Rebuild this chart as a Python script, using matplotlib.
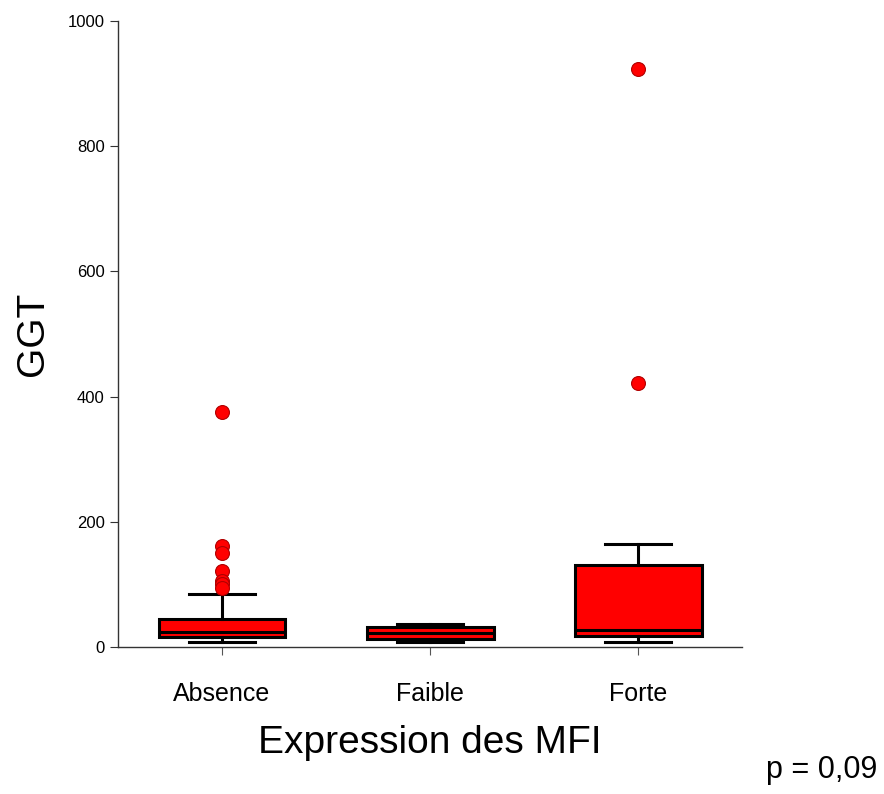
import matplotlib
matplotlib.use("Agg")
import matplotlib.pyplot as plt

plt.rcParams['font.family'] = ['Liberation Sans', 'DejaVu Sans']

categories = ['Absence', 'Faible', 'Forte']
q1 = [16, 13, 18]
med = [24, 22, 27]
q3 = [45, 32, 131]
whislo = [8, 8, 8]
whishi = [85, 37, 165]
fliers = [[375, 162, 150, 121, 106, 100, 94], [], [923, 422]]

stats = []
for i, c in enumerate(categories):
    stats.append(dict(label=c, q1=q1[i], med=med[i], q3=q3[i],
                      whislo=whislo[i], whishi=whishi[i], fliers=fliers[i]))

fig = plt.figure(figsize=(8.84, 7.94), dpi=100)
ax = fig.add_axes([0.1335, 0.185, 0.706, 0.789])

ax.bxp(stats, positions=[1, 2, 3], widths=0.61, patch_artist=True,
       boxprops=dict(facecolor='#ff0000', edgecolor='black', linewidth=2.2),
       medianprops=dict(color='black', linewidth=2.2),
       whiskerprops=dict(color='black', linewidth=2.2),
       capprops=dict(color='black', linewidth=2.2),
       capwidths=0.32,
       flierprops=dict(marker='o', markerfacecolor='#ff0000', markeredgecolor='#b00000',
                       markersize=10, markeredgewidth=0.8))

ax.set_xlim(0.5, 3.5)
ax.set_ylim(0, 1000)
ax.set_yticks([0, 200, 400, 600, 800, 1000])
ax.spines['top'].set_visible(False)
ax.spines['right'].set_visible(False)
for s in ['left', 'bottom']:
    ax.spines[s].set_color('#333333')
    ax.spines[s].set_linewidth(1.0)
ax.tick_params(axis='y', labelsize=12, length=6, direction='out', color='#333333')
ax.tick_params(axis='x', labelsize=18, length=6, direction='out', color='#555555', pad=19)

ax.set_ylabel('GGT', fontsize=28, labelpad=12)
ax.set_xlabel('Expression des MFI', fontsize=28, labelpad=14)

fig.text(0.993, 0.03, 'p = 0,09', fontsize=22, ha='right', va='center')

fig.savefig('out.png', dpi=100)
